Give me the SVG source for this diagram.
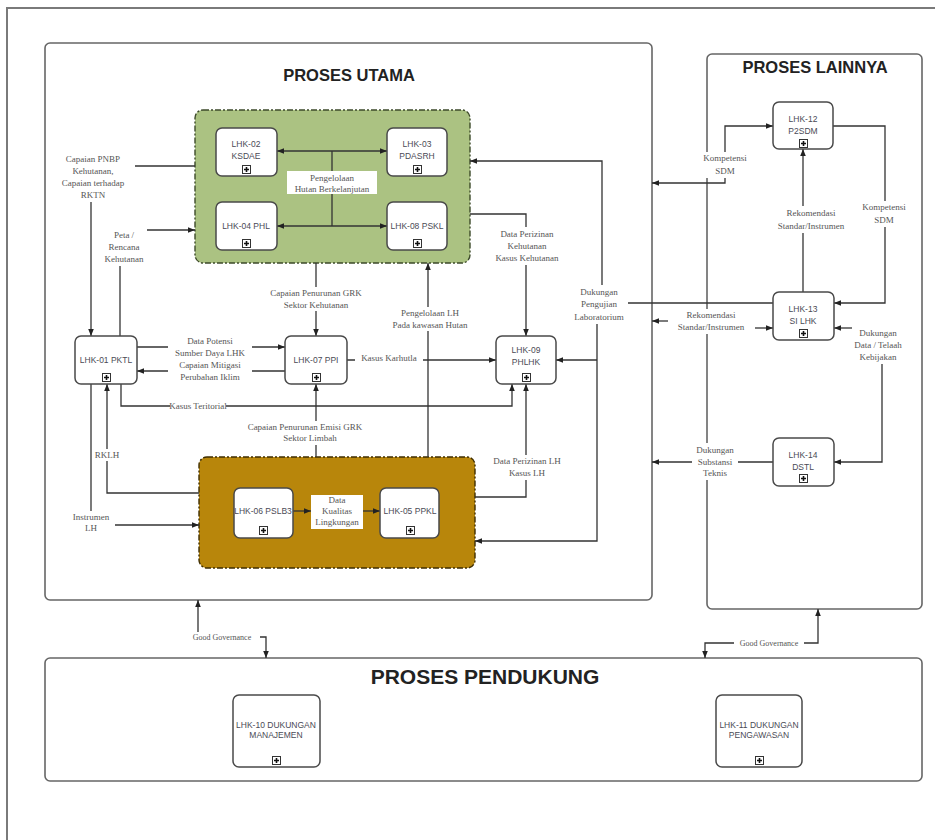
<svg xmlns="http://www.w3.org/2000/svg" width="935" height="840" viewBox="0 0 935 840">
<defs>
<marker id="ah" viewBox="0 0 10 10" refX="10" refY="5" markerWidth="7" markerHeight="7" markerUnits="userSpaceOnUse" orient="auto-start-reverse"><path d="M0,1 L10,5 L0,9 z" fill="#222"/></marker>
<symbol id="ic" viewBox="0 0 9 9"><rect x="0.5" y="0.5" width="8" height="8" fill="#fff" stroke="#333"/><path d="M2,4.5 H7 M4.5,2 V7" stroke="#111" stroke-width="1.6"/></symbol>
</defs>
<style>
.frame{fill:none;stroke:#7a7a7a;stroke-width:2}
.area{fill:#fff;stroke:#666;stroke-width:1.6}
.title{font-family:"Liberation Sans",Arial,sans-serif;font-weight:bold;fill:#222;text-anchor:middle}
.grp-g{fill:#abc282;stroke:#3d4a2a;stroke-width:1.4;stroke-dasharray:6 2 2 2}
.grp-b{fill:#b8860b;stroke:#3f2e00;stroke-width:1.4;stroke-dasharray:6 2 2 2}
.node rect{fill:#fff;stroke:#4a4a4a;stroke-width:1.5}
.nt{font-family:"Liberation Sans",Arial,sans-serif;font-size:8.5px;fill:#4a4a55;text-anchor:middle}
.cn{fill:none;stroke:#333;stroke-width:1.3}
.ar{marker-end:url(#ah)}
.ar2{marker-start:url(#ah);marker-end:url(#ah)}
.lb{font-family:"Liberation Serif","Times New Roman",serif;font-size:9px;fill:#555;text-anchor:middle}
.gg{font-size:8px}
.bg{fill:#fff}
</style>

<path class="frame" d="M7,840 V8 H935"/>

<g id="proses-utama">
<rect class="area" x="45" y="43" width="607" height="557" rx="5"/>
<text class="title" x="349" y="81" font-size="16.5">PROSES UTAMA</text>
</g>
<g id="proses-lainnya">
<rect class="area" x="707" y="54" width="215" height="555" rx="5"/>
<text class="title" x="815" y="73" font-size="16.5">PROSES LAINNYA</text>
</g>
<g id="proses-pendukung">
<rect class="area" x="45" y="658" width="877" height="123" rx="5"/>
<text class="title" x="485" y="684" font-size="21">PROSES PENDUKUNG</text>
</g>

<g id="grp-hutan"><rect class="grp-g" x="195" y="110" width="275" height="153" rx="8"/></g>
<g id="grp-lingkungan"><rect class="grp-b" x="199" y="457" width="276" height="111" rx="8"/></g>

<g id="connectors">
<path class="cn ar2" d="M277,151 H387"/>
<path class="cn" d="M332,151 V226"/>
<path class="cn ar2" d="M277,226 H387"/>
<rect x="287" y="171" width="90" height="23" fill="#fff"/>
<text class="lb" x="332" y="181">Pengelolaan</text>
<text class="lb" x="332" y="192">Hutan Berkelanjutan</text>

<path class="cn" d="M195,166 H135"/>
<path class="cn ar" d="M91,202 V336"/>
<text class="lb" x="93" y="162">Capaian PNBP</text>
<text class="lb" x="93" y="174">Kehutanan,</text>
<text class="lb" x="93" y="186">Capaian terhadap</text>
<text class="lb" x="93" y="198">RKTN</text>

<path class="cn" d="M120,336 V266"/>
<path class="cn ar" d="M147,230 H195"/>
<text class="lb" x="124" y="238">Peta /</text>
<text class="lb" x="124" y="250">Rencana</text>
<text class="lb" x="124" y="262">Kehutanan</text>

<path class="cn ar" d="M316,263 V336"/>
<rect class="bg" x="262" y="287" width="108" height="24"/>
<text class="lb" x="316" y="296">Capaian Penurunan GRK</text>
<text class="lb" x="316" y="308">Sektor Kehutanan</text>

<path class="cn ar" d="M137,347 H285"/>
<path class="cn ar" d="M285,371 H137"/>
<rect class="bg" x="168" y="335" width="84" height="48"/>
<text class="lb" x="210" y="344">Data Potensi</text>
<text class="lb" x="210" y="356">Sumber Daya LHK</text>
<text class="lb" x="210" y="368">Capaian Mitigasi</text>
<text class="lb" x="210" y="380">Perubahan Iklim</text>

<path class="cn ar" d="M121,384 V406 H512 V384"/>
<rect class="bg" x="170" y="400" width="56" height="12"/>
<text class="lb" x="198" y="409">Kasus Teritorial</text>

<path class="cn ar" d="M347,360 H496"/>
<rect class="bg" x="355" y="354" width="68" height="12"/>
<text class="lb" x="389" y="361">Kasus Karhutla</text>

<path class="cn ar" d="M428,457 V263"/>
<rect class="bg" x="385" y="307" width="90" height="24"/>
<text class="lb" x="430" y="316">Pengelolaan LH</text>
<text class="lb" x="430" y="328">Pada kawasan Hutan</text>

<path class="cn ar" d="M316,457 V384"/>
<rect class="bg" x="244" y="421" width="124" height="24"/>
<text class="lb" x="305" y="430">Capaian Penurunan Emisi GRK</text>
<text class="lb" x="310" y="441">Sektor Limbah</text>

<path class="cn ar" d="M470,214 H526 V336"/>
<rect class="bg" x="490" y="227" width="75" height="38"/>
<text class="lb" x="527" y="237">Data Perizinan</text>
<text class="lb" x="527" y="249">Kehutanan</text>
<text class="lb" x="527" y="261">Kasus Kehutanan</text>

<path class="cn ar" d="M475,497 H526 V384"/>
<rect class="bg" x="484" y="455" width="86" height="25"/>
<text class="lb" x="527" y="464">Data Perizinan LH</text>
<text class="lb" x="527" y="476">Kasus LH</text>

<path class="cn" d="M774,303 H628"/>
<path class="cn ar" d="M602,285 V161 H470"/>
<path class="cn ar" d="M597,324 V541 H475"/>
<path class="cn ar" d="M597,360 H556"/>
<rect class="bg" x="570" y="285" width="58" height="39"/>
<text class="lb" x="599" y="295">Dukungan</text>
<text class="lb" x="599" y="307">Pengujian</text>
<text class="lb" x="599" y="320">Laboratorium</text>

<path class="cn ar" d="M199,493 H107 V384"/>
<rect class="bg" x="94" y="449" width="26" height="12"/>
<text class="lb" x="107" y="458">RKLH</text>

<path class="cn" d="M91,384 V511"/>
<path class="cn ar" d="M115,525 H199"/>
<text class="lb" x="91" y="520">Instrumen</text>
<text class="lb" x="91" y="531">LH</text>

<path class="cn ar" d="M293,511 H311"/>
<path class="cn ar" d="M363,511 H380"/>
<rect x="311" y="495" width="52" height="34" fill="#fff"/>
<text class="lb" x="337" y="503">Data</text>
<text class="lb" x="337" y="514">Kualitas</text>
<text class="lb" x="337" y="525">Lingkungan</text>

<path class="cn ar" d="M725,153 V126 H773"/>
<path class="cn ar" d="M725,178 V183 H652"/>
<rect class="bg" x="700" y="152" width="50" height="26"/>
<text class="lb" x="725" y="161">Kompetensi</text>
<text class="lb" x="725" y="174">SDM</text>

<path class="cn ar" d="M833,126 H885 V303 H834"/>
<rect class="bg" x="858" y="201" width="52" height="26"/>
<text class="lb" x="884" y="210">Kompetensi</text>
<text class="lb" x="884" y="223">SDM</text>

<path class="cn ar" d="M803,292 V149"/>
<rect class="bg" x="768" y="206" width="86" height="27"/>
<text class="lb" x="811" y="216">Rekomendasi</text>
<text class="lb" x="811" y="229">Standar/Instrumen</text>

<path class="cn ar" d="M755,328 H773"/>
<path class="cn ar" d="M668,321 H652"/>
<rect class="bg" x="668" y="309" width="86" height="25"/>
<text class="lb" x="711" y="318">Rekomendasi</text>
<text class="lb" x="711" y="330">Standar/Instrumen</text>

<path class="cn ar" d="M853,328 H834"/>
<path class="cn ar" d="M882,364 V462 H834"/>
<rect class="bg" x="852" y="326" width="54" height="38"/>
<text class="lb" x="878" y="336">Dukungan</text>
<text class="lb" x="878" y="348">Data / Telaah</text>
<text class="lb" x="878" y="360">Kebijakan</text>

<path class="cn ar" d="M773,462 H652"/>
<rect class="bg" x="692" y="443" width="46" height="37"/>
<text class="lb" x="715" y="453">Dukungan</text>
<text class="lb" x="715" y="465">Substansi</text>
<text class="lb" x="715" y="476">Teknis</text>

<path class="cn ar2" d="M266,658 V637 H198 V600"/>
<rect class="bg" x="184" y="632" width="76" height="11"/>
<text class="lb gg" x="222" y="640">Good Governance</text>
<path class="cn ar2" d="M705,658 V643 H818 V609"/>
<rect class="bg" x="734" y="638" width="70" height="11"/>
<text class="lb gg" x="769" y="646">Good Governance</text>
</g>

<g id="lhk-01" class="node"><rect x="75" y="336" width="62" height="48" rx="6"/><text class="nt" x="106" y="363">LHK-01 PKTL</text><use href="#ic" x="102" y="373" width="9" height="9"/></g>
<g id="lhk-02" class="node"><rect x="216" y="128" width="61" height="48" rx="6"/><text class="nt" x="246" y="147">LHK-02</text><text class="nt" x="246" y="159">KSDAE</text><use href="#ic" x="242" y="165" width="9" height="9"/></g>
<g id="lhk-03" class="node"><rect x="387" y="128" width="60" height="48" rx="6"/><text class="nt" x="417" y="147">LHK-03</text><text class="nt" x="417" y="159">PDASRH</text><use href="#ic" x="413" y="165" width="9" height="9"/></g>
<g id="lhk-04" class="node"><rect x="216" y="202" width="61" height="48" rx="6"/><text class="nt" x="246" y="229">LHK-04 PHL</text><use href="#ic" x="242" y="239" width="9" height="9"/></g>
<g id="lhk-08" class="node"><rect x="387" y="202" width="60" height="48" rx="6"/><text class="nt" x="417" y="229">LHK-08 PSKL</text><use href="#ic" x="413" y="239" width="9" height="9"/></g>
<g id="lhk-07" class="node"><rect x="285" y="336" width="62" height="48" rx="6"/><text class="nt" x="316" y="363">LHK-07 PPI</text><use href="#ic" x="312" y="373" width="9" height="9"/></g>
<g id="lhk-09" class="node"><rect x="496" y="336" width="60" height="48" rx="6"/><text class="nt" x="526" y="353">LHK-09</text><text class="nt" x="526" y="365">PHLHK</text><use href="#ic" x="522" y="373" width="9" height="9"/></g>
<g id="lhk-06" class="node"><rect x="234" y="488" width="59" height="50" rx="6"/><text class="nt" x="263" y="514" font-size="7.8">LHK-06 PSLB3</text><use href="#ic" x="259" y="526" width="9" height="9"/></g>
<g id="lhk-05" class="node"><rect x="380" y="488" width="59" height="50" rx="6"/><text class="nt" x="410" y="514">LHK-05 PPKL</text><use href="#ic" x="406" y="526" width="9" height="9"/></g>
<g id="lhk-12" class="node"><rect x="773" y="102" width="60" height="47" rx="6"/><text class="nt" x="803" y="122">LHK-12</text><text class="nt" x="803" y="134">P2SDM</text><use href="#ic" x="799" y="139" width="9" height="9"/></g>
<g id="lhk-13" class="node"><rect x="773" y="292" width="61" height="48" rx="6"/><text class="nt" x="803" y="312">LHK-13</text><text class="nt" x="803" y="324">SI LHK</text><use href="#ic" x="799" y="329" width="9" height="9"/></g>
<g id="lhk-14" class="node"><rect x="773" y="438" width="61" height="48" rx="6"/><text class="nt" x="803" y="458">LHK-14</text><text class="nt" x="803" y="470">DSTL</text><use href="#ic" x="799" y="474" width="9" height="9"/></g>
<g id="lhk-10" class="node"><rect x="233" y="695" width="87" height="72" rx="6"/><text class="nt" x="276" y="728" font-size="7">LHK-10 DUKUNGAN</text><text class="nt" x="276" y="738" font-size="7">MANAJEMEN</text><use href="#ic" x="272" y="756" width="9" height="9"/></g>
<g id="lhk-11" class="node"><rect x="716" y="695" width="86" height="72" rx="6"/><text class="nt" x="759" y="728" font-size="7">LHK-11 DUKUNGAN</text><text class="nt" x="759" y="738" font-size="7">PENGAWASAN</text><use href="#ic" x="755" y="756" width="9" height="9"/></g>
</svg>
